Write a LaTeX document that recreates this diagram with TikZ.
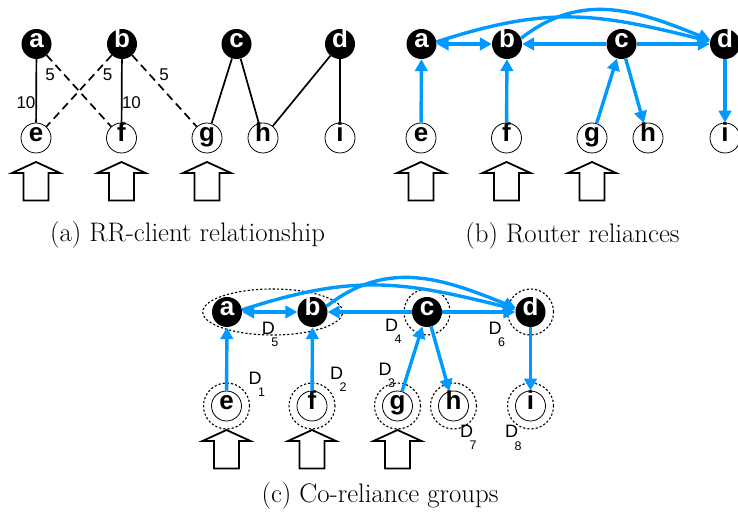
\documentclass[tikz,border=0pt]{standalone}
\usepackage{fontspec}
\newfontfamily\hvfont{Liberation Sans}
\usepackage{xcolor}
\usepackage{tikz}
\usetikzlibrary{calc,arrows.meta,positioning,shapes.geometric}
\definecolor{relc}{HTML}{0099FF}
\tikzset{
  rtr/.style={circle,fill=black,text=white,minimum size=30pt,inner sep=0pt,text height=0.7em,text depth=0pt,font=\hvfont\bfseries\fontsize{26}{26}\selectfont},
  cli/.style={rtr,fill=white,text=black,draw=black,line width=0.8pt},
  ses/.style={line width=1.7pt},
  sesd/.style={ses,dash pattern=on 8pt off 5pt},
  rel/.style={->,line width=3.4pt,relc},
  grp/.style={draw,line width=1.1pt,dash pattern=on 2.2pt off 2pt,minimum size=46pt,inner sep=0pt},
  wt/.style={font=\hvfont\fontsize{17}{17}\selectfont,inner sep=1pt},
  dl/.style={font=\hvfont\fontsize{18}{18}\selectfont,inner sep=0pt},
  dsub/.style={font=\hvfont\fontsize{12.5}{12.5}\selectfont,inner sep=0pt},
  inarr/.style={draw,line width=1.8pt,line join=miter,fill=white},
  captxt/.style={font=\fontsize{26.8}{30}\selectfont,inner sep=0pt}
}
\newcommand{\rrnodes}[3]{
  \node[rtr] (a#1) at (#2+36.5,#3+472) {a};
  \node[rtr] (b#1) at (#2+122,#3+472) {b};
  \node[rtr] (c#1) at (#2+236.5,#3+472) {c};
  \node[rtr] (d#1) at (#2+340,#3+472) {d};
  \node[cli] (e#1) at (#2+36,#3+378) {e};
  \node[cli] (f#1) at (#2+121.5,#3+378) {f};
  \node[cli] (g#1) at (#2+207,#3+378) {g};
  \node[cli] (h#1) at (#2+263,#3+378) {h};
  \node[cli] (i#1) at (#2+340,#3+378) {i};}
\newcommand{\inarrow}[1]{\draw[inarr] ($(#1)+(-12.5,-62.5)$) -- ++(0,27.5) -- ++(-11.5,0)
  -- ++(24,11) -- ++(24,-11) -- ++(-11.5,0) -- ++(0,-27.5) -- cycle;}
\newcommand{\relarrows}[1]{
  \draw[rel] (e#1) -- (a#1);
  \draw[rel] (f#1) -- (b#1);
  \draw[rel] (g#1) -- (c#1);
  \draw[rel] (c#1) -- (h#1);
  \draw[rel] (d#1) -- (i#1);
  \draw[rel,<->] (a#1) -- (b#1);
  \draw[rel] (c#1) -- (b#1);
  \draw[rel] (c#1) -- (d#1);
  \draw[rel] (a#1.8) to[out=18,in=166,looseness=1.1] (d#1.170);
  \draw[rel] (b#1.22) to[out=38,in=158,looseness=1.05] (d#1.165);}
\newcommand{\dname}[4]{\node[dl] (#1) at (#2,#3) {D};
  \node[dsub] (#1s) at ($(#1)+(6.5,-14)$) {#4};}

\begin{document}
\begin{tikzpicture}[x=1pt,y=1pt,>={Triangle[length=12pt,width=12.5pt]}]
\useasboundingbox (0,0) rectangle (738,516);
\rrnodes{1}{0}{0}
\rrnodes{2}{385}{0}
\rrnodes{3}{190.5}{-268}
\draw[ses] (a1) -- (e1);
\draw[sesd] (a1) -- (f1);
\draw[sesd] (b1) -- (e1);
\draw[ses] (b1) -- (f1);
\draw[sesd] (b1) -- (g1);
\draw[ses] (c1) -- (g1);
\draw[ses] (c1) -- (h1);
\draw[ses] (d1) -- (h1);
\draw[ses] (d1) -- (i1);
\node[wt] (w1) at (26,413.5) {10};
\node[wt] (w2) at (50,441) {5};
\node[wt] (w3) at (107.5,441) {5};
\node[wt] (w4) at (131.5,413.5) {10};
\node[wt] (w5) at (164,441) {5};
\node[grp,circle] (D1) at (e3) {};
\node[grp,circle] (D2) at (f3) {};
\node[grp,circle] (D3) at (g3) {};
\node[grp,circle] (D4) at (c3) {};
\node[grp,ellipse,minimum width=140pt] (D5) at ($(a3)!0.5!(b3)+(3,0)$) {};
\node[grp,circle] (D6) at (d3) {};
\node[grp,circle] (D7) at (h3) {};
\node[grp,circle] (D8) at (i3) {};
\relarrows{2}
\relarrows{3}
\foreach \n in {e1,f1,g1,e2,f2,g2,e3,f3,g3} {\inarrow{\n}}
\dname{l1}{255}{137.7}{1}
\dname{l2}{336.7}{142.7}{2}
\dname{l3}{385}{146.5}{3}
\dname{l4}{391.7}{191}{4}
\dname{l5}{268.3}{187.7}{5}
\dname{l6}{495}{187.7}{6}
\dname{l7}{466.7}{84.3}{7}
\dname{l8}{511.7}{84.3}{8}
\node[captxt] (capa) at (187.5,281) {(a) RR-client relationship};
\node[captxt] (capb) at (572.5,280) {(b) Router reliances};
\node[captxt] (capc) at (380,20) {(c) Co-reliance groups};
\end{tikzpicture}
\end{document}
